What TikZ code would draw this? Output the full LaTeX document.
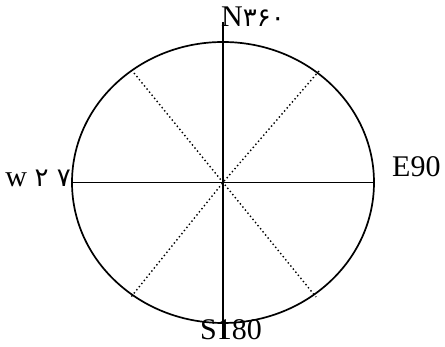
\documentclass[tikz,border=0pt]{standalone}
\usepackage{fontspec}
\setmainfont{Liberation Serif}
\newfontfamily\pdigits{DejaVu Sans}
\begin{document}
\begin{tikzpicture}[x=1pt,y=1pt,
  axis/.style={line width=1.7pt},
  diag/.style={line width=1.4pt, dash pattern=on 1.4pt off 2.6pt},
  lbl/.style={font=\fontsize{30}{34}\selectfont, inner sep=0pt}]
\useasboundingbox (0,0) rectangle (445,347);
\coordinate (O) at (223,164.5);
\draw[axis] (O) ellipse [x radius=151, y radius=140.5];
\coordinate (T) at (223,325);
\coordinate (B) at (223,8);
\coordinate (L) at (72,164.5);
\coordinate (R) at (374,164.5);
\draw[axis] (T) -- (B);
\draw[axis] (L) -- (R);
\coordinate (UL) at (134,274);
\coordinate (UR) at (319,276);
\coordinate (LL) at (131,50);
\coordinate (LR) at (316,50);
\draw[diag] (UL) -- (O) -- (LR);
\draw[diag] (UR) -- (O) -- (LL);
\node[lbl, anchor=base west] (n) at (221,320) {N{\pdigits\fontsize{26}{30}\selectfont ۳۶۰}};
\node[lbl, anchor=base west] (e) at (392,170) {E90};
\node[lbl, anchor=base east] (w) at (71,160) {w {\pdigits\fontsize{26}{30}\selectfont ۲ ۷}};
\node[lbl, anchor=base west] (s) at (200,7) {S180};
\end{tikzpicture}
\end{document}
